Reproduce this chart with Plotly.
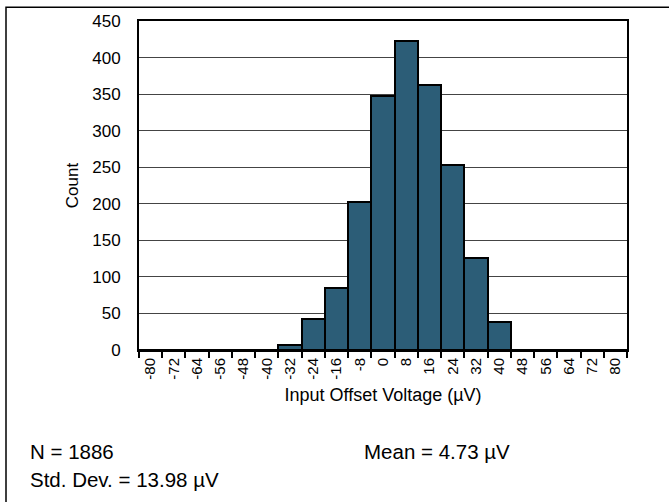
import plotly.graph_objects as go

categories = [str(v) for v in range(-80, 81, 8)]
counts = [0, 0, 0, 0, 0, 0, 7, 43, 85, 202, 347, 423, 362, 253, 126, 38, 0, 0, 0, 0, 0]
y_ticks = list(range(0, 451, 50))

W, H = 669, 502
L, R, T, B = 139, 627, 18, 350

def px(x):
    return (x - L) / (R - L)

def py(y):
    return (B - y) / (B - T)

fig = go.Figure()
fig.add_trace(go.Bar(
    x=categories, y=counts,
    marker=dict(color="#2C5D77", line=dict(color="black", width=2)),
    width=1.0,
))

fig.update_layout(
    width=W, height=H,
    margin=dict(l=L, r=W - R, t=T, b=H - B),
    paper_bgcolor="white", plot_bgcolor="white",
    font=dict(family="Liberation Sans, Arial, sans-serif", color="black", size=16),
    bargap=0,
    showlegend=False,
    xaxis=dict(
        type="category",
        tickangle=-90,
        ticks="outside", tickson="boundaries", ticklen=6, tickwidth=2, tickcolor="black",
        showline=True, linecolor="black", linewidth=2, mirror=True,
        showgrid=False,
        title=dict(text="Input Offset Voltage (µV)", font=dict(size=18), standoff=10),
        tickfont=dict(size=15),
    ),
    yaxis=dict(
        range=[0, 450],
        tickvals=y_ticks,
        ticks="", showline=True, linecolor="black", linewidth=2, mirror=True,
        showgrid=True, gridcolor="#444444", gridwidth=1,
        zeroline=False,
        ticklabelstandoff=13,
        title=dict(text="Count", font=dict(size=17), standoff=9),
        tickfont=dict(size=17),
    ),
    shapes=[dict(
        type="rect", xref="paper", yref="paper",
        x0=px(6), x1=px(720), y0=py(560), y1=py(4),
        line=dict(color="black", width=1.5), fillcolor="rgba(0,0,0,0)", layer="below",
    )],
    annotations=[
        dict(text="N = 1886", xref="paper", yref="paper", x=px(28), y=py(452),
             xanchor="left", yanchor="middle", showarrow=False, font=dict(size=20.5)),
        dict(text="Mean = 4.73 µV", xref="paper", yref="paper", x=px(362), y=py(452),
             xanchor="left", yanchor="middle", showarrow=False, font=dict(size=20.5)),
        dict(text="Std. Dev. = 13.98 µV", xref="paper", yref="paper", x=px(28), y=py(481),
             xanchor="left", yanchor="middle", showarrow=False, font=dict(size=20.5)),
    ],
)

fig.write_html("out.html")
